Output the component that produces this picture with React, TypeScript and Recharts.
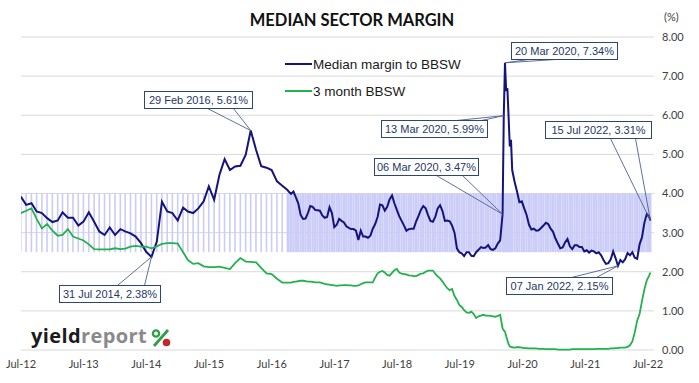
import React from 'react';
import { ComposedChart, Bar, Line, XAxis, YAxis, CartesianGrid, ReferenceDot, Legend } from 'recharts';

const DAY = 86400000;

// month-end readings, 30 Jun 2012 .. 30 Sep 2016
const monthlyMargin = [
  3.92, 3.71, 3.75, 3.54, 3.5, 3.37, 3.27, 3.31, 3.52, 3.38,
  3.38, 3.18, 3.28, 3.52, 3.28, 3.03, 2.94, 3.13, 2.94, 3.09,
  3.03, 2.98, 2.9, 2.73, 2.51, 2.38, 2.77, 3.79, 3.54, 3.5,
  3.31, 3.64, 3.54, 3.5, 3.62, 3.8, 4.18, 3.84, 4.48, 4.88,
  4.6, 4.69, 4.71, 4.99, 5.61, 5.12, 4.7, 4.66, 4.6, 4.31,
  4.2, 4.09,
];
const monthlyBbsw = [
  3.5, 3.56, 3.62, 3.35, 3.11, 3.22, 3.05, 2.92, 2.94, 3.09,
  2.9, 2.85, 2.8, 2.7, 2.58, 2.57, 2.57, 2.57, 2.6, 2.58,
  2.59, 2.64, 2.66, 2.64, 2.64, 2.6, 2.65, 2.71, 2.73, 2.73,
  2.72, 2.5, 2.3, 2.2, 2.22, 2.14, 2.12, 2.12, 2.13, 2.1,
  2.07, 2.22, 2.35, 2.26, 2.25, 2.24, 2.1, 1.96, 1.94, 1.82,
  1.72, 1.72,
];

// fortnightly readings from 07 Oct 2016 to 08 Jul 2022
const fortnightStart = '2016-10-07';
const fortnightMargin = [
  4.05, 3.99, 4.05, 3.9, 3.75, 3.45, 3.35, 3.36, 3.5, 3.68,
  3.66, 3.58, 3.57, 3.56, 3.44, 3.38, 3.4, 3.65, 3.5, 3.14,
  3.2, 3.35, 3.3, 3.26, 3.16, 3.12, 3.09, 3.09, 3.05, 2.81,
  3.05, 2.9, 2.9, 2.87, 2.92, 3.1, 3.22, 3.4, 3.72, 3.7,
  3.56, 3.66, 3.85, 3.95, 3.75, 3.58, 3.42, 3.3, 3.18, 3.05,
  3.09, 3.1, 3.1, 3.28, 3.42, 3.58, 3.68, 3.62, 3.45, 3.3,
  3.28, 3.4, 3.62, 3.7, 3.55, 3.3, 3.31, 3.29, 3.18, 3.0,
  2.6, 2.5, 2.47, 2.4, 2.5, 2.5, 2.41, 2.4, 2.5, 2.56,
  2.63, 2.61, 2.62, 2.68, 2.58, 2.56, 2.6, 2.72, 2.8, 3.47,
  7.34, 6.69, 5.2, 4.6, 4.3, 4.05, 3.78, 3.8, 3.62, 3.45,
  3.2, 3.08, 3.1, 3.05, 3.06, 3.12, 3.18, 3.25, 3.22, 3.1,
  3.02, 2.85, 2.72, 2.6, 2.62, 2.75, 2.84, 2.65, 2.58, 2.68,
  2.68, 2.63, 2.63, 2.52, 2.55, 2.49, 2.54, 2.52, 2.47, 2.5,
  2.42, 2.3, 2.2, 2.22, 2.32, 2.52, 2.35, 2.15, 2.3, 2.24,
  2.32, 2.48, 2.42, 2.5, 2.36, 2.33, 2.7, 2.88, 3.25, 3.48,
  3.4,
];
const fortnightBbsw = [
  1.72, 1.72, 1.74, 1.75, 1.76, 1.77, 1.77, 1.76, 1.75, 1.75,
  1.74, 1.73, 1.73, 1.73, 1.71, 1.69, 1.68, 1.67, 1.66, 1.65,
  1.64, 1.65, 1.65, 1.66, 1.66, 1.65, 1.65, 1.64, 1.64, 1.65,
  1.68, 1.71, 1.73, 1.73, 1.73, 1.73, 1.85, 1.96, 2.0, 2.02,
  1.98, 1.92, 1.9, 1.97, 2.04, 2.07, 1.98, 1.95, 1.94, 1.93,
  1.91, 1.9, 1.89, 1.89, 1.92, 1.95, 1.96, 2.0, 2.03, 2.03,
  2.03, 1.95, 1.88, 1.83, 1.75, 1.66, 1.58, 1.53, 1.56, 1.38,
  1.28, 1.15, 1.1, 1.02, 0.96, 0.95, 0.98, 0.92, 0.82, 0.86,
  0.88, 0.9, 0.88, 0.88, 0.87, 0.86, 0.85, 0.87, 0.9, 0.55,
  0.47, 0.25, 0.09, 0.07, 0.06, 0.07, 0.07, 0.06, 0.05, 0.05,
  0.04, 0.04, 0.04, 0.04, 0.03, 0.03, 0.03, 0.02, 0.02, 0.02,
  0.02, 0.02, 0.01, 0.01, 0.01, 0.01, 0.01, 0.01, 0.02, 0.02,
  0.02, 0.02, 0.02, 0.02, 0.02, 0.02, 0.02, 0.02, 0.03, 0.03,
  0.03, 0.03, 0.03, 0.03, 0.04, 0.04, 0.05, 0.05, 0.06, 0.06,
  0.06, 0.08, 0.12, 0.22, 0.45, 0.75, 0.92, 1.25, 1.55, 1.78,
  1.9,
];

// in-between weekly readings
const extraDates = ['2020-03-13', '2020-03-27', '2020-04-10', '2020-04-24', '2022-07-15'];
const extraMargin = [5.99, 6.62, 5.97, 5.37, 3.31];
const extraBbsw = [0.5, 0.35, 0.15, 0.08, 1.98];

const bandRange = [2.5, 4.0];
const yTicks = [0, 1, 2, 3, 4, 5, 6, 7, 8];
const xTickDates = [
  '2012-07-01', '2013-07-01', '2014-07-01', '2015-07-01', '2016-07-01', '2017-07-01',
  '2018-07-01', '2019-07-01', '2020-07-01', '2021-07-01', '2022-07-01',
];
const xDomain = ['2012-07-01', '2022-08-05'];
const legendOrder = ['Median margin to BBSW', '3 month BBSW'];

const calloutDates = ['2014-07-31', '2016-02-29', '2020-03-06', '2020-03-13', '2020-03-20', '2022-01-07', '2022-07-15'];
// box offset from the point, box width, leader anchor points on the box
const calloutLayout = [
  { dx: -92, dy: 28, w: 101, anchors: [[58, 0], [85, 0]] },
  { dx: -107, dy: -40, w: 108, anchors: [[63, 17], [89, 17]] },
  { dx: -129, dy: -56, w: 104, anchors: [[62, 17], [88, 17]] },
  { dx: -123, dy: 4, w: 106, anchors: [[75, 0], [100, 0]] },
  { dx: 6, dy: -21, w: 106, anchors: [[17, 17], [44, 17]] },
  { dx: -112, dy: 11, w: 106, anchors: [[65, 0], [90, 0]] },
  { dx: -105, dy: -99, w: 106, anchors: [[65, 17], [90, 17]] },
];

const MONTHS = ['Jan', 'Feb', 'Mar', 'Apr', 'May', 'Jun', 'Jul', 'Aug', 'Sep', 'Oct', 'Nov', 'Dec'];
const parse = (s: string) => {
  const [y, m, d] = s.split('-').map(Number);
  return Date.UTC(y, m - 1, d);
};

type Row = { t: number; margin: number; bbsw: number; band: number[] };
const rows: Row[] = [];
monthlyMargin.forEach((v, m) => rows.push({ t: Date.UTC(2012, 6 + m, 0), margin: v, bbsw: monthlyBbsw[m], band: bandRange }));
const f0 = parse(fortnightStart);
fortnightMargin.forEach((v, i) => rows.push({ t: f0 + i * 14 * DAY, margin: v, bbsw: fortnightBbsw[i], band: bandRange }));
extraDates.forEach((d, i) => rows.push({ t: parse(d), margin: extraMargin[i], bbsw: extraBbsw[i], band: bandRange }));
rows.sort((a, b) => a.t - b.t);

const fmtTick = (t: number) => {
  const d = new Date(t);
  return `${MONTHS[d.getUTCMonth()]}-${String(d.getUTCFullYear() % 100).padStart(2, '0')}`;
};
const fmtCallout = (t: number, v: number) => {
  const d = new Date(t);
  return `${String(d.getUTCDate()).padStart(2, '0')} ${MONTHS[d.getUTCMonth()]} ${d.getUTCFullYear()}, ${v.toFixed(2)}%`;
};

const BandShape = (p: any) => {
  const w = p.payload.t < f0 ? 1.6 : 2.3;
  const cx = p.x + p.width / 2;
  return <rect x={cx - w / 2} y={p.y} width={w} height={p.height} fill="#CCCCF8" />;
};

function Callout({ cx, cy, text, lay }: any) {
  const h = 17;
  const bx = Math.round(cx + lay.dx) + 0.5;
  const by = Math.round(cy + lay.dy) + 0.5;
  return (
    <g>
      {lay.anchors.map(([ax, ay]: number[], k: number) => (
        <line key={k} x1={bx + ax} y1={by + ay} x2={cx} y2={cy} stroke="#4D6191" strokeWidth={0.9} />
      ))}
      <rect x={bx} y={by} width={lay.w} height={h} fill="#fff" stroke="#2E4577" strokeWidth={1} />
      <text x={bx + lay.w / 2} y={by + 12.5} textAnchor="middle" fontFamily="'Liberation Sans', Arial, sans-serif" fontSize={11} fill="#1F3768">
        {text}
      </text>
    </g>
  );
}

const LegendContent = ({ payload }: any) => {
  const items = (payload || [])
    .filter((p: any) => legendOrder.includes(p.value))
    .sort((a: any, b: any) => legendOrder.indexOf(a.value) - legendOrder.indexOf(b.value));
  return (
    <svg width={200} height={50} style={{ display: 'block' }}>
      {items.map((p: any, i: number) => (
        <g key={p.value} transform={`translate(0, ${8 + i * 27})`}>
          <line x1={5} x2={32} y1={0} y2={0} stroke={p.color} strokeWidth={2} />
          <text x={33} y={4.7} fontFamily="'Liberation Sans', Arial, sans-serif" fontSize={13.5} fill="#1a1a1a">
            {p.value}
          </text>
        </g>
      ))}
    </svg>
  );
};

const tickStyle = { fontSize: 11, fill: '#404040', fontFamily: 'Lato, sans-serif' };

export default function App() {
  return (
    <div style={{ position: 'absolute', left: 0, top: 0, width: 699, height: 383, background: '#fff' }}>
      <ComposedChart width={699} height={383} data={rows} margin={{ top: 37, right: 0, bottom: 3, left: 21 }}>
        <CartesianGrid vertical={false} stroke="#D9D9D9" />
        <XAxis
          dataKey="t"
          type="number"
          domain={[parse(xDomain[0]), parse(xDomain[1])]}
          allowDataOverflow
          ticks={xTickDates.map(parse)}
          tickFormatter={fmtTick}
          interval={0}
          axisLine={false}
          tickLine={false}
          tickMargin={4}
          height={30}
          tick={tickStyle}
        />
        <YAxis
          orientation="right"
          domain={[0, 8]}
          ticks={yTicks}
          tickFormatter={(v: number) => v.toFixed(2)}
          axisLine={false}
          tickLine={false}
          width={45}
          tick={tickStyle}
        />
        <Bar dataKey="band" barSize={2} legendType="none" isAnimationActive={false} shape={BandShape} />
        <Line dataKey="margin" name="Median margin to BBSW" type="linear" stroke="#14147E" strokeWidth={2} dot={false} isAnimationActive={false} />
        <Line dataKey="bbsw" name="3 month BBSW" type="linear" stroke="#22B14C" strokeWidth={1.8} dot={false} isAnimationActive={false} />
        <Legend
          layout="vertical"
          align="center"
          verticalAlign="middle"
          content={LegendContent}
          wrapperStyle={{ left: 280, top: 56, width: 200, height: 50 }}
        />
        {calloutDates.map((d, k) => {
          const t = parse(d);
          const row = rows.find((r) => r.t === t);
          if (!row) return null;
          const text = fmtCallout(t, row.margin);
          return (
            <ReferenceDot
              key={d}
              x={t}
              y={row.margin}
              r={0}
              ifOverflow="visible"
              shape={(p: any) => <Callout cx={p.cx} cy={p.cy} text={text} lay={calloutLayout[k]} />}
            />
          );
        })}
      </ComposedChart>
      <svg width={699} height={383} style={{ position: 'absolute', left: 0, top: 0, pointerEvents: 'none' }}>
        <text x={352} y={26} textAnchor="middle" fontFamily="Lato, sans-serif" fontWeight={700} fontSize={16.5} fill="#111">
          MEDIAN SECTOR MARGIN
        </text>
        <text x={664} y={21} fontFamily="Lato, sans-serif" fontSize={11} fill="#404040">(%)</text>
        <text x={31} y={343} fontFamily="'Open Sans', sans-serif" fontWeight={700} fontSize={20} letterSpacing={0.4}>
          <tspan fill="#1b1b1b">yield</tspan>
          <tspan fill="#8a8a8a">report</tspan>
        </text>
        <line x1={154} y1={346} x2={168} y2={330} stroke="#2E9E48" strokeWidth={2.8} />
        <circle cx={156} cy={333.5} r={3.1} fill="none" stroke="#2E9E48" strokeWidth={2.4} />
        <circle cx={166.5} cy={342.5} r={3.8} fill="#C0282D" />
      </svg>
    </div>
  );
}
